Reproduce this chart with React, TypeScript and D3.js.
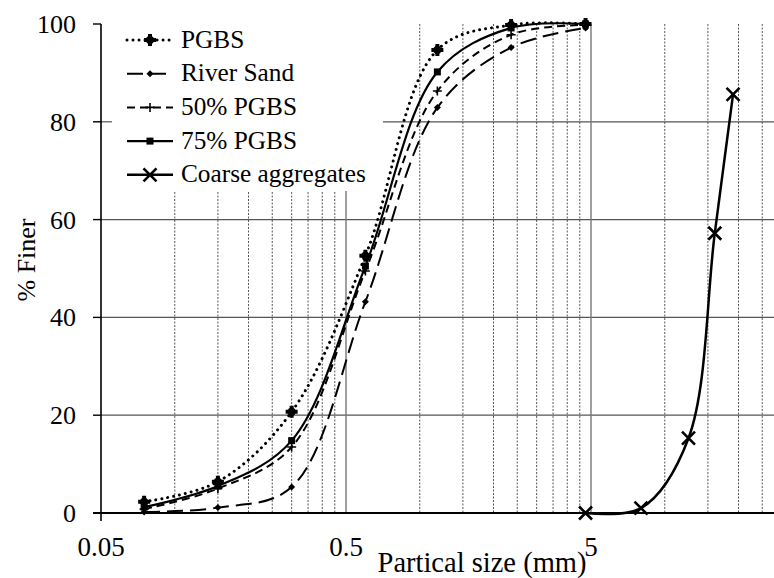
import React from "react";
import * as d3 from "d3";

// ---- data ----
const sieveSizes = [0.075, 0.15, 0.3, 0.6, 1.18, 2.36, 4.75];
const pgbs = [2.3, 6.4, 20.7, 52.6, 94.7, 99.8, 100];
const riverSand = [0.2, 1.1, 5.3, 43.2, 82.9, 95.2, 99.2];
const pgbs50 = [0.8, 5.0, 13.5, 49.5, 86.3, 97.8, 99.8];
const pgbs75 = [1.2, 5.5, 14.8, 50.5, 90.2, 99.2, 100];
const coarseSizes = [4.75, 8, 12.5, 16, 19];
const coarse = [0, 1.0, 15.3, 57.2, 85.6];
const seriesNames = ["PGBS", "River Sand", "50% PGBS", "75% PGBS", "Coarse aggregates"];
const yTicks = [0, 20, 40, 60, 80, 100];
const yGrid = [20, 40, 60, 80];
const xTicks = [0.05, 0.5, 5];
const xTickLabels = ["0.05", "0.5", "5"];
const decades = [0.05, 0.5, 5];
const xTitle = "Partical size (mm)";
const yTitle = "% Finer";

const W = 774;
const H = 578;
const X0 = 101;
const DEC = 245;
const Y0 = 513;
const Y100 = 24;
const FONT = "Liberation Serif";

type MarkerType = "star" | "diamond" | "plus" | "square" | "cross";

const styles: { dash?: string; width: number; cap?: "round" | "butt"; marker: MarkerType }[] = [
  { dash: "0.01 6", width: 3, cap: "round", marker: "star" },
  { dash: "16 7", width: 2, marker: "diamond" },
  { dash: "8 5", width: 2, marker: "plus" },
  { width: 2.2, marker: "square" },
  { width: 2.5, marker: "cross" },
];

const textStyle: React.CSSProperties = { fontFamily: FONT };

function Marker({ type, cx, cy }: { type: MarkerType; cx: number; cy: number }) {
  switch (type) {
    case "star":
      return (
        <g>
          <path d={`M${cx - 6},${cy}H${cx + 6}M${cx},${cy - 6}V${cy + 6}`} stroke="#000" strokeWidth={4} />
          <circle cx={cx} cy={cy} r={4.2} fill="#000" />
        </g>
      );
    case "diamond":
      return <path d={`M${cx},${cy - 3.5}L${cx + 3.5},${cy}L${cx},${cy + 3.5}L${cx - 3.5},${cy}Z`} fill="#000" />;
    case "plus":
      return <path d={`M${cx - 4.5},${cy}H${cx + 4.5}M${cx},${cy - 4.5}V${cy + 4.5}`} stroke="#000" strokeWidth={1.6} />;
    case "square":
      return <rect x={cx - 3.5} y={cy - 3.5} width={7} height={7} fill="#000" />;
    case "cross":
      return (
        <path
          d={`M${cx - 6.5},${cy - 6.5}L${cx + 6.5},${cy + 6.5}M${cx - 6.5},${cy + 6.5}L${cx + 6.5},${cy - 6.5}`}
          stroke="#000"
          strokeWidth={2.6}
        />
      );
  }
  return null;
}

export default function App() {
  const x = d3.scaleLog().domain([0.05, 50]).range([X0, X0 + 3 * DEC]);
  const y = d3.scaleLinear().domain([0, 100]).range([Y0, Y100]);
  const line = d3
    .line<[number, number]>()
    .x((d) => x(d[0]))
    .y((d) => y(d[1]))
    .curve(d3.curveCatmullRom.alpha(0.5));

  const minor: number[] = [];
  decades.forEach((d) => {
    for (let k = 2; k <= 9; k++) minor.push(d * k);
  });
  const major = [0.5, 5, 50];

  const data: [number, number][][] = [
    sieveSizes.map((s, i) => [s, pgbs[i]] as [number, number]),
    sieveSizes.map((s, i) => [s, riverSand[i]] as [number, number]),
    sieveSizes.map((s, i) => [s, pgbs50[i]] as [number, number]),
    sieveSizes.map((s, i) => [s, pgbs75[i]] as [number, number]),
    coarseSizes.map((s, i) => [s, coarse[i]] as [number, number]),
  ];

  const legendX1 = 127;
  const legendX2 = 173;
  const legendY0 = 40;
  const legendDY = 33.7;

  return (
    <svg
      width={W}
      height={H}
      style={{ position: "absolute", left: 0, top: 0, background: "#fff", fontFamily: FONT }}
    >
      <rect x={0} y={0} width={W} height={H} fill="#fff" />
      <defs>
        <clipPath id="plotClip">
          <rect x={X0} y={0} width={W - X0} height={H} />
        </clipPath>
      </defs>
      {/* horizontal grid */}
      {yGrid.map((v) => (
        <line key={"h" + v} x1={X0} x2={W} y1={y(v)} y2={y(v)} stroke="#555" strokeWidth={1.2} />
      ))}
      {/* vertical minor grid */}
      {minor.map((v) =>
        x(v) < W ? (
          <line
            key={"m" + v}
            x1={x(v)}
            x2={x(v)}
            y1={Y100}
            y2={Y0}
            stroke="#444"
            strokeWidth={0.9}
            strokeDasharray="2 1.5"
          />
        ) : null
      )}
      {major.map((v) =>
        x(v) < W ? (
          <line key={"M" + v} x1={x(v)} x2={x(v)} y1={Y100} y2={Y0} stroke="#777" strokeWidth={1.4} />
        ) : null
      )}
      {/* legend background */}
      <rect x={X0 + 11} y={Y100 - 2} width={383 - X0 - 11} height={191 - Y100 + 2} fill="#fff" />
      <rect x={X0 + 1} y={Y100 - 2} width={11} height={191 - Y100 + 2} fill="#fff" />
      {yGrid.map((v) =>
        y(v) < 191 ? (
          <line key={"hs" + v} x1={X0} x2={X0 + 11} y1={y(v)} y2={y(v)} stroke="#555" strokeWidth={1.2} />
        ) : null
      )}

      {/* series */}
      <g clipPath="url(#plotClip)">
        {data.map((pts, i) => (
          <path
            key={"s" + i}
            d={line(pts) || ""}
            fill="none"
            stroke="#000"
            strokeWidth={styles[i].width}
            strokeDasharray={styles[i].dash}
            strokeLinecap={styles[i].cap || "butt"}
          />
        ))}
        {data.map((pts, i) =>
          pts.map((p, j) => <Marker key={"mk" + i + "-" + j} type={styles[i].marker} cx={x(p[0])} cy={y(p[1])} />)
        )}
      </g>

      {/* axes */}
      <line x1={X0 - 8} x2={W} y1={Y0} y2={Y0} stroke="#000" strokeWidth={2.2} />
      <line x1={X0} x2={X0} y1={Y100} y2={Y0 + 8} stroke="#000" strokeWidth={1.6} />
      {yTicks.map((v) => (
        <g key={"yt" + v}>
          <line x1={X0 - 8} x2={X0} y1={y(v)} y2={y(v)} stroke="#000" strokeWidth={1.4} />
          <text x={76} y={y(v) + 9} fontSize={26} textAnchor="end" fill="#000" style={textStyle}>
            {v}
          </text>
        </g>
      ))}
      {xTicks.map((v, i) => (
        <text key={"xt" + v} x={x(v)} y={556} fontSize={27} textAnchor="middle" fill="#000" style={textStyle}>
          {xTickLabels[i]}
        </text>
      ))}
      <text x={482} y={572} fontSize={28.5} textAnchor="middle" fill="#000" style={textStyle}>
        {xTitle}
      </text>
      <text transform={`translate(35,260) rotate(-90)`} fontSize={26} textAnchor="middle" fill="#000" style={textStyle}>
        {yTitle}
      </text>

      {/* legend */}
      {seriesNames.map((name, i) => {
        const ly = legendY0 + i * legendDY;
        const st = styles[i];
        return (
          <g key={"lg" + i}>
            <line
              x1={legendX1}
              x2={legendX2}
              y1={ly}
              y2={ly}
              stroke="#000"
              strokeWidth={st.width}
              strokeDasharray={st.dash}
              strokeLinecap={st.cap || "butt"}
            />
            <Marker type={st.marker} cx={(legendX1 + legendX2) / 2} cy={ly} />
            <text x={181} y={ly + 7.5} fontSize={25.3} fill="#000" style={textStyle}>
              {name}
            </text>
          </g>
        );
      })}
    </svg>
  );
}
